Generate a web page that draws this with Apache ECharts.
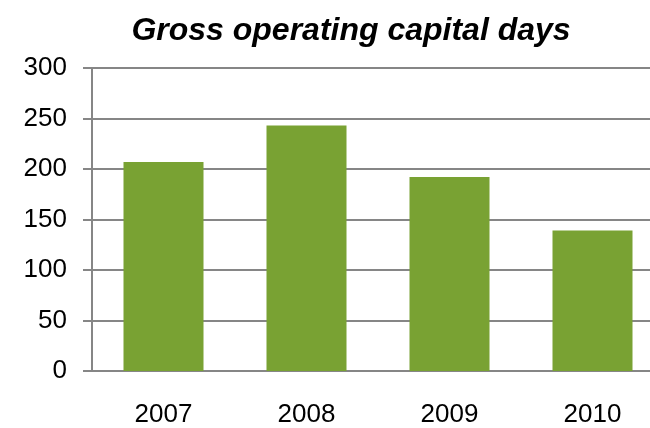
<!DOCTYPE html>
<html>
<head>
<meta charset="utf-8">
<script src="https://cdn.jsdelivr.net/npm/echarts@6/dist/echarts.min.js"></script>
<style>
html,body{margin:0;padding:0;background:#fff;}
#wrap{position:relative;width:650px;height:428px;overflow:hidden;}
#c{position:absolute;left:0;top:0;width:664px;height:428px;}
</style>
</head>
<body>
<div id="wrap"><div id="c"></div></div>
<script>
const titleText = 'Gross operating capital days';
const categories = ['2007', '2008', '2009', '2010'];
const values = [207, 243, 192, 139];

const chart = echarts.init(document.getElementById('c'), null, {renderer: 'canvas'});
chart.setOption({
  animation: false,
  backgroundColor: '#ffffff',
  title: {
    text: titleText,
    left: 346,
    textAlign: 'center',
    top: 10,
    textStyle: {
      fontFamily: 'Liberation Sans, Arial, sans-serif',
      fontSize: 32,
      fontWeight: 'bold',
      fontStyle: 'italic',
      color: '#000'
    }
  },
  grid: {
    left: 92,
    right: 0,
    top: 68,
    height: 308,
    containLabel: false
  },
  xAxis: {
    type: 'category',
    data: categories,
    axisLine: {show: true, lineStyle: {color: '#868686', width: 2}},
    axisTick: {show: false},
    axisLabel: {
      margin: 31,
      fontFamily: 'Liberation Sans, Arial, sans-serif',
      fontSize: 26,
      color: '#000'
    }
  },
  yAxis: {
    type: 'value',
    min: 0,
    max: 300,
    interval: 50,
    axisLine: {show: true, lineStyle: {color: '#868686', width: 2}},
    axisTick: {show: true, length: 9, inside: false, lineStyle: {color: '#868686', width: 2}},
    splitLine: {show: true, lineStyle: {color: '#868686', width: 2}},
    axisLabel: {
      margin: 25,
      fontFamily: 'Liberation Sans, Arial, sans-serif',
      fontSize: 26,
      color: '#000'
    }
  },
  series: [{
    type: 'bar',
    data: values,
    barWidth: 80,
    itemStyle: {color: '#79A233'}
  }]
});
</script>
</body>
</html>
